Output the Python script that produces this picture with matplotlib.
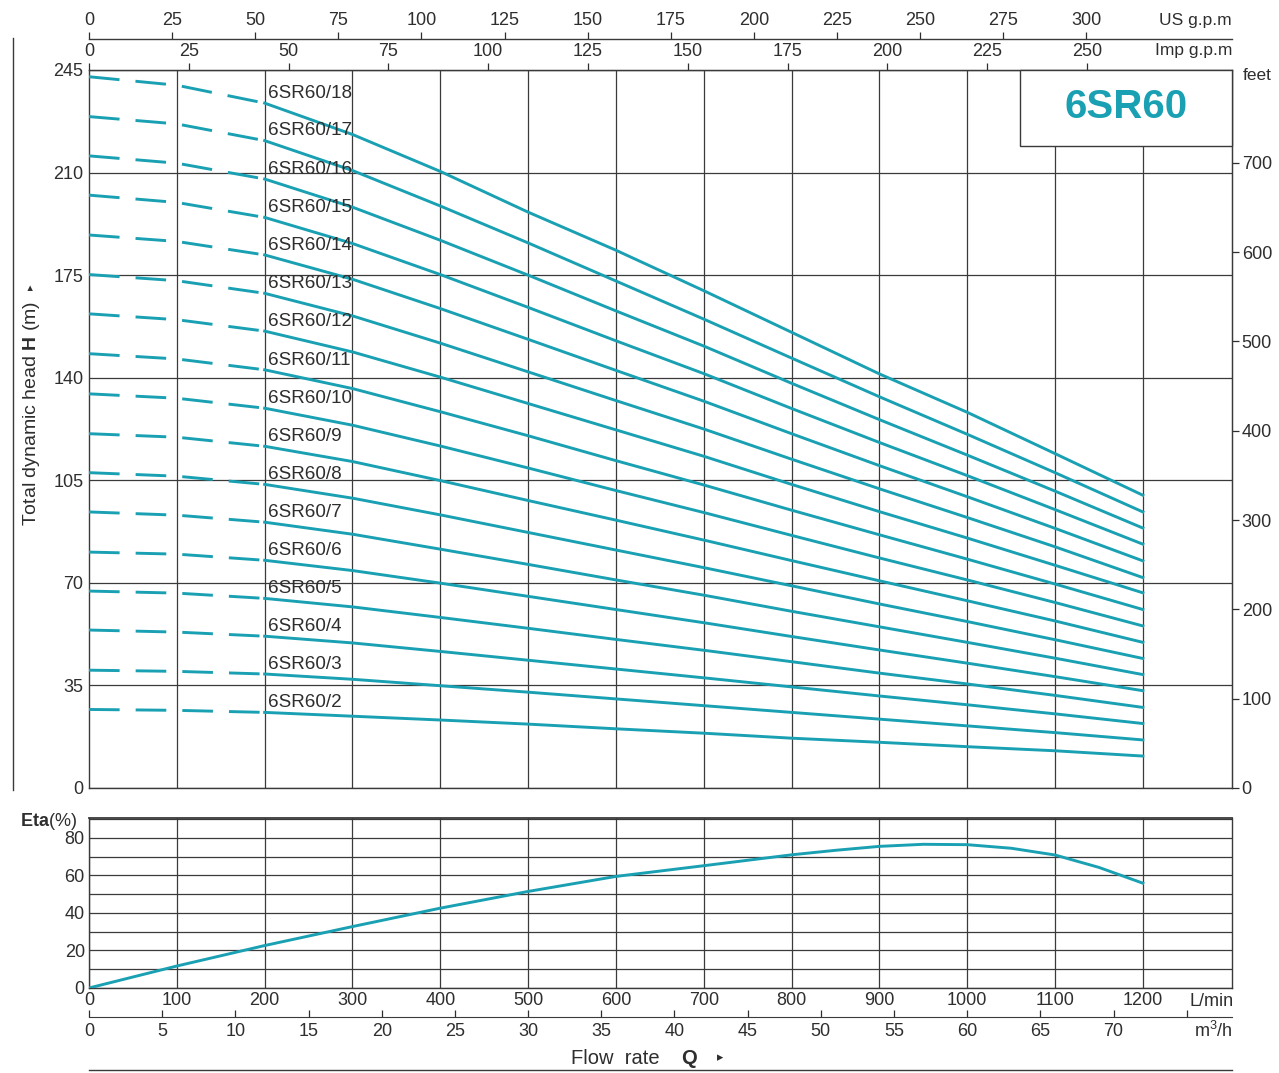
import matplotlib
matplotlib.use("Agg")
import matplotlib.pyplot as plt
from matplotlib.patches import Rectangle
from matplotlib.lines import Line2D

plt.rcParams['font.family'] = ['Liberation Sans', 'DejaVu Sans']
plt.rcParams['mathtext.fontset'] = 'custom'
plt.rcParams['mathtext.rm'] = 'Liberation Sans'
plt.rcParams['mathtext.bf'] = 'Liberation Sans:bold'

# ---------------- data ----------------
flow_lmin = [0, 100, 200, 300, 400, 500, 600, 700, 800, 900, 1000, 1100, 1200]
models = ["6SR60/2", "6SR60/3", "6SR60/4", "6SR60/5", "6SR60/6", "6SR60/7",
          "6SR60/8", "6SR60/9", "6SR60/10", "6SR60/11", "6SR60/12", "6SR60/13",
          "6SR60/14", "6SR60/15", "6SR60/16", "6SR60/17", "6SR60/18"]
head_2 = [26.8, 26.5, 25.8, 24.5, 23.2, 21.8, 20.2, 18.7, 17.0, 15.6, 14.1, 12.7, 10.9]
head_3 = [40.2, 39.8, 38.9, 37.1, 34.9, 32.7, 30.4, 28.1, 25.8, 23.5, 21.2, 18.9, 16.4]
head_4 = [53.9, 53.2, 51.8, 49.5, 46.6, 43.6, 40.6, 37.6, 34.5, 31.4, 28.4, 25.3, 22.0]
head_5 = [67.2, 66.5, 64.7, 61.8, 58.2, 54.5, 50.7, 47.0, 43.1, 39.2, 35.5, 31.6, 27.5]
head_6 = [80.5, 79.8, 77.7, 74.2, 69.9, 65.4, 60.9, 56.4, 51.7, 47.1, 42.6, 38.0, 33.2]
head_7 = [94.2, 93.1, 90.7, 86.6, 81.5, 76.3, 71.0, 65.8, 60.3, 55.0, 49.7, 44.3, 38.7]
head_8 = [107.6, 106.4, 103.6, 98.9, 93.2, 87.2, 81.2, 75.2, 69.0, 62.8, 56.8, 50.6, 44.2]
head_9 = [120.9, 119.7, 116.6, 111.4, 104.9, 98.1, 91.4, 84.6, 77.6, 70.7, 63.9, 57.0, 49.7]
head_10 = [134.5, 133.0, 129.6, 123.8, 116.7, 109.2, 101.5, 94.0, 86.2, 78.5, 71.0, 63.3, 55.3]
head_11 = [148.2, 146.4, 142.7, 136.3, 128.4, 120.2, 111.7, 103.4, 94.8, 86.4, 78.1, 69.6, 60.9]
head_12 = [161.8, 159.8, 155.9, 148.8, 140.2, 131.2, 122.2, 113.2, 103.6, 94.3, 85.3, 76.0, 66.6]
head_13 = [175.2, 173.1, 168.8, 161.1, 151.8, 142.0, 132.2, 122.5, 112.2, 102.1, 92.3, 82.3, 71.8]
head_14 = [188.7, 186.5, 181.9, 173.6, 163.6, 153.1, 142.5, 132.0, 120.9, 110.0, 99.4, 88.6, 77.5]
head_15 = [202.3, 199.8, 194.7, 185.8, 175.2, 164.0, 152.6, 141.4, 129.5, 117.9, 106.6, 95.0, 83.2]
head_16 = [215.7, 213.2, 207.8, 198.2, 186.9, 175.0, 162.8, 150.8, 138.1, 125.7, 113.6, 101.3, 88.7]
head_17 = [229.1, 226.6, 220.9, 210.7, 198.6, 186.0, 173.0, 160.0, 146.7, 133.5, 120.7, 107.6, 94.2]
head_18 = [242.7, 239.8, 233.7, 223.0, 210.4, 196.5, 183.5, 169.7, 155.5, 141.3, 128.2, 114.1, 99.9]
heads = [head_2, head_3, head_4, head_5, head_6, head_7, head_8, head_9, head_10,
         head_11, head_12, head_13, head_14, head_15, head_16, head_17, head_18]

eta_flow = [0, 100, 200, 300, 400, 500, 600, 700, 800, 850, 900, 950, 1000, 1050, 1100, 1150, 1200]
eta_pct = [0, 11.7, 22.6, 32.7, 42.5, 51.4, 59.4, 65.1, 70.9, 73.3, 75.4, 76.5, 76.3, 74.4, 70.8, 64.2, 55.8]

head_ticks = [0, 35, 70, 105, 140, 175, 210, 245]
feet_ticks = [0, 100, 200, 300, 400, 500, 600, 700]
us_gpm_ticks = [0, 25, 50, 75, 100, 125, 150, 175, 200, 225, 250, 275, 300]
imp_gpm_ticks = [0, 25, 50, 75, 100, 125, 150, 175, 200, 225, 250]
lmin_ticks = [0, 100, 200, 300, 400, 500, 600, 700, 800, 900, 1000, 1100, 1200]
m3h_ticks = [0, 5, 10, 15, 20, 25, 30, 35, 40, 45, 50, 55, 60, 65, 70, 75]
eta_ticks = [0, 20, 40, 60, 80]

# ---------------- style ----------------
W, H = 1279, 1073
TEAL = '#1aa0b3'
GRID = '#3a3a3a'
TXT = '#2e2e2e'
FS = 13
LW = 2.1


def fx(px):
    return px / W


def fy(py):
    return 1 - py / H


fig = plt.figure(figsize=(W / 100, H / 100), dpi=100)
fig.patch.set_facecolor('white')

XMAX = 1301.5
ax = fig.add_axes([fx(89), fy(788), (1232 - 89) / W, (788 - 70) / H])
ax.set_xlim(0, XMAX)
ax.set_ylim(0, 245)
ax.set_xticks([t for t in lmin_ticks if t > 0])
ax.set_xticklabels([])
ax.set_yticks(head_ticks)
ax.set_yticklabels([str(t) for t in head_ticks])
ax.tick_params(axis='both', length=0, labelsize=FS, colors=TXT, pad=4)
ax.tick_params(axis='x', labelbottom=False)
ax.grid(True, color=GRID, lw=0.9)
ax.set_axisbelow(True)
for s in ax.spines.values():
    s.set_color(GRID)
    s.set_linewidth(1.0)

for name, h in zip(models, heads):
    ax.plot(flow_lmin[:3], h[:3], color=TEAL, lw=LW, dashes=(10.5, 5.5), zorder=3,
            solid_capstyle='butt', dash_capstyle='butt')
    ax.plot(flow_lmin[2:], h[2:], color=TEAL, lw=LW, zorder=3, solid_joinstyle='round')
    ax.text(204, h[2] + 3.3, name, fontsize=13.6, color=TXT, ha='left', va='center', zorder=4)

# model box
ax.add_patch(Rectangle((1060, 219.2), XMAX - 1060, 245 - 219.2, facecolor='white',
                       edgecolor=GRID, lw=1.0, zorder=5, clip_on=False))
ax.text((1060 + XMAX) / 2, 232.3, "6SR60", fontsize=29, fontweight='bold', color=TEAL,
        ha='center', va='center', zorder=6)

# feet axis
sec_ft = ax.secondary_yaxis('right', functions=(lambda m: m / 0.3048, lambda f: f * 0.3048))
sec_ft.set_yticks(feet_ticks)
sec_ft.tick_params(length=5, width=0.9, colors=TXT, labelsize=FS, pad=2)
sec_ft.spines['right'].set_color(GRID)

# Imp gpm axis (top)
sec_imp = ax.secondary_xaxis('top', functions=(lambda q: q / 4.546, lambda g: g * 4.546))
sec_imp.set_xticks(imp_gpm_ticks)
sec_imp.tick_params(length=5, width=0.9, colors=TXT, labelsize=FS, pad=2)
sec_imp.spines['top'].set_color(GRID)

# US gpm axis
sec_us = ax.secondary_xaxis(1 + 31 / 718, functions=(lambda q: q / 3.785, lambda g: g * 3.785))
sec_us.set_xticks(us_gpm_ticks)
sec_us.tick_params(length=5, width=0.9, colors=TXT, labelsize=FS, pad=2)
sec_us.spines['top'].set_color(GRID)
sec_us.spines['top'].set_linewidth(1.0)

fig.text(fx(1232), fy(20), "US g.p.m", fontsize=12.5, color=TXT, ha='right', va='center')
fig.text(fx(1232), fy(50), "Imp g.p.m", fontsize=12.5, color=TXT, ha='right', va='center')
fig.text(fx(1243), fy(75), "feet", fontsize=12.5, color=TXT, ha='left', va='center')

# y label and left line
fig.add_artist(Line2D([fx(13), fx(13)], [fy(38), fy(790)], color=GRID, lw=1.0))
fig.text(fx(31), fy(413), r"Total dynamic head $\mathbf{H}$ (m)", fontsize=14, color=TXT,
         rotation=90, ha='center', va='center')
fig.text(fx(31), fy(287), "▸", fontsize=8, color=TXT, rotation=90, ha='center', va='center',
         family=['DejaVu Sans'])

# ---------------- efficiency panel ----------------
ax2 = fig.add_axes([fx(89), fy(988), (1232 - 89) / W, (988 - 818) / H])
ax2.set_xlim(0, XMAX)
ax2.set_ylim(0, 90.5)
ax2.set_xticks(lmin_ticks)
ax2.set_xticklabels([str(t) for t in lmin_ticks])
ax2.set_yticks(eta_ticks)
ax2.set_yticklabels([str(t) for t in eta_ticks])
ax2.set_yticks([10, 30, 50, 70, 90], minor=True)
ax2.tick_params(axis='both', which='both', length=0, labelsize=FS, colors=TXT, pad=3)
ax2.grid(True, which='both', color=GRID, lw=0.9)
ax2.set_axisbelow(True)
for s in ax2.spines.values():
    s.set_color(GRID)
    s.set_linewidth(1.0)
ax2.spines['top'].set_linewidth(1.3)
ax2.plot(eta_flow, eta_pct, color=TEAL, lw=LW, zorder=3, solid_joinstyle='round')

sec_m3 = ax2.secondary_xaxis(-(1017 - 988) / 170, functions=(lambda q: q * 0.06, lambda m: m / 0.06))
sec_m3.set_xticks(m3h_ticks)
sec_m3.set_xticklabels([str(t) if t < 75 else '' for t in m3h_ticks])
sec_m3.tick_params(direction='in', length=5, width=0.9, colors=TXT, labelsize=FS, pad=4)
sec_m3.spines['bottom'].set_color(GRID)

fig.text(fx(20), fy(822), r"$\mathbf{Eta}$(%)", fontsize=13, color=TXT, ha='left', va='center')
fig.text(fx(1234), fy(1001), "L/min", fontsize=13, color=TXT, ha='right', va='center')
fig.text(fx(1233), fy(1031), "m$^{3}$/h", fontsize=13, color=TXT, ha='right', va='center')
fig.text(fx(571), fy(1058), "Flow  rate", fontsize=14.5, color=TXT, ha='left', va='center')
fig.text(fx(681), fy(1058), "Q", fontsize=14.5, fontweight='bold', color=TXT, ha='left', va='center')
fig.text(fx(717), fy(1058), "▸", fontsize=9, color=TXT, ha='left', va='center',
         family=['DejaVu Sans'])
fig.add_artist(Line2D([fx(89), fx(1232)], [fy(1070), fy(1070)], color=GRID, lw=1.0))

fig.savefig("out.png", dpi=100)
